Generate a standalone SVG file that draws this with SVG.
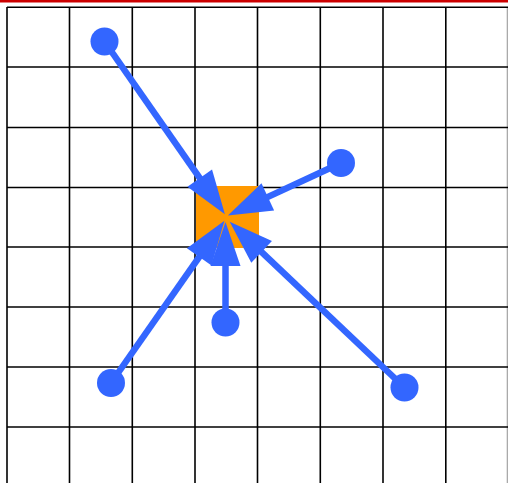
<svg xmlns="http://www.w3.org/2000/svg" width="508" height="483" viewBox="0 0 508 483">
<style>
.grid line{stroke:#000;stroke-width:1.6}
.conn{stroke:#3366ff;stroke-width:6.5;fill:none;stroke-linecap:butt}
.dot{fill:#3366ff}
</style>
<defs>
<marker id="ah" markerUnits="userSpaceOnUse" markerWidth="44" markerHeight="30" viewBox="0 0 44 30" refX="1" refY="15" orient="auto" overflow="visible">
<path d="M0,0 L44,15 L0,30 z" fill="#3366ff"/>
</marker>
</defs>
<rect width="508" height="483" fill="#fff"/>
<rect x="0" y="0" width="508" height="2.5" fill="#cc0000"/>
<g class="grid">
<line x1="7" y1="7" x2="7" y2="483"/>
<line x1="69.5" y1="7" x2="69.5" y2="483"/>
<line x1="132.3" y1="7" x2="132.3" y2="483"/>
<line x1="195" y1="7" x2="195" y2="483"/>
<line x1="257.5" y1="7" x2="257.5" y2="483"/>
<line x1="320.3" y1="7" x2="320.3" y2="483"/>
<line x1="383" y1="7" x2="383" y2="483"/>
<line x1="445.8" y1="7" x2="445.8" y2="483"/>
<line x1="507.5" y1="7" x2="507.5" y2="483" style="stroke:#aaa"/>
<line x1="7" y1="7.3" x2="508" y2="7.3"/>
<line x1="7" y1="67" x2="508" y2="67"/>
<line x1="7" y1="127.5" x2="508" y2="127.5"/>
<line x1="7" y1="187.5" x2="508" y2="187.5"/>
<line x1="7" y1="247" x2="508" y2="247"/>
<line x1="7" y1="307" x2="508" y2="307"/>
<line x1="7" y1="367" x2="508" y2="367"/>
<line x1="7" y1="427" x2="508" y2="427"/>
</g>
<g id="target"><rect x="196" y="186" width="63" height="62" fill="#ff9900"/></g>
<g id="connectors">
<line class="conn" x1="104.5" y1="41.5" x2="200.3" y2="178.9" marker-end="url(#ah)"/>
<line class="conn" x1="341" y1="163" x2="266.9" y2="197.4" marker-end="url(#ah)"/>
<line class="conn" x1="225.5" y1="322.5" x2="225.5" y2="265" marker-end="url(#ah)"/>
<line class="conn" x1="111" y1="383" x2="199.8" y2="256.1" marker-end="url(#ah)"/>
<line class="conn" x1="404.5" y1="387.5" x2="260.9" y2="251.3" marker-end="url(#ah)"/>
</g>
<g id="n1"><circle class="dot" cx="104.5" cy="41.5" r="14"/></g>
<g id="n2"><circle class="dot" cx="341" cy="163" r="14"/></g>
<g id="n3"><circle class="dot" cx="225.5" cy="322.5" r="14"/></g>
<g id="n4"><circle class="dot" cx="111" cy="383" r="14"/></g>
<g id="n5"><circle class="dot" cx="404.5" cy="387.5" r="14"/></g>
</svg>
